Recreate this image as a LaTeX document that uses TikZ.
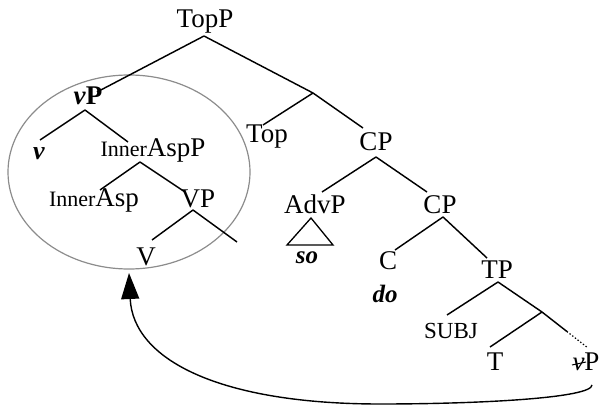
\documentclass[tikz,border=0pt]{standalone}
\usepackage{fontspec}
\setmainfont{Liberation Serif}
\usetikzlibrary{calc,arrows.meta}
\begin{document}
\begin{tikzpicture}[x=1pt,y=-1pt,
  lbl/.style={anchor=base,inner sep=0pt,font=\fontsize{27}{30}\selectfont},
  sml/.style={anchor=base,inner sep=0pt,font=\fontsize{23}{26}\selectfont},
  wrd/.style={anchor=base,inner sep=0pt,font=\fontsize{25}{28}\selectfont\bfseries\itshape},
  branch/.style={line width=1.45pt,black},
  ring/.style={draw=black!45,line width=1.2pt},
  move/.style={line width=1.4pt,-{Triangle[length=26pt,width=18pt]}}]
\useasboundingbox (0,0) rectangle (599,406);
% labels
\node[lbl] (TopP) at (205,28) {TopP};
\coordinate (TopBar) at (313,93);
\node[lbl] (vP) at (88,105) {\textbf{\textit{v}P}};
\node[lbl] (Top) at (267,143) {Top};
\node[lbl] (CP) at (376,151) {CP};
\node[lbl] (AdvP) at (315,213) {AdvP};
\node[wrd] (so) at (307,263) {so};
\node[lbl] (CPb) at (440,213) {CP};
\node[lbl] (C) at (388,269) {C};
\node[wrd] (do) at (385,302) {do};
\node[lbl] (TP) at (497,278) {TP};
\node[sml] (SUBJ) at (451,338) {SUBJ};
\coordinate (TPbar) at (542,312);
\node[lbl] (T) at (495,370) {T};
\node[lbl] (vPb) at (586,370) {\textit{v}P};
\node[lbl,font=\fontsize{26}{30}\selectfont\bfseries\itshape] (v) at (39,160) {v};
\node[lbl] (IAP) at (153,157) {{\fontsize{22}{26}\selectfont Inner}AspP};
\node[lbl] (IA) at (94,206) {{\fontsize{22}{26}\selectfont Inner}Asp};
\node[lbl] (VP) at (198,207) {VP};
\node[lbl] (V) at (146,265) {V};
\coordinate (VPr) at (237,242);
% circle
\draw[ring] (129,172) ellipse [x radius=121pt, y radius=97pt];
% branches
\draw[branch] ($(TopP.base)+(-1,8)$) -- ($(vP.base)+(9,-13)$);
\draw[branch] ($(TopP.base)+(-1,8)$) -- (TopBar);
\draw[branch] (TopBar) -- ($(Top.base)+(-4,-18)$);
\draw[branch] (TopBar) -- ($(CP.base)+(-13,-23)$);
\draw[branch] ($(CP.base)+(0,6)$) -- ($(AdvP.base)+(7,-21)$);
\draw[branch] ($(CP.base)+(0,6)$) -- ($(CPb.base)+(-13,-21)$);
\draw[line width=1.3pt] ($(AdvP.base)+(-4,5)$) -- ($(AdvP.base)+(-28,32)$) -- ($(AdvP.base)+(18,32)$) -- cycle;
\draw[branch] ($(CPb.base)+(3,4)$) -- ($(C.base)+(7,-19)$);
\draw[branch] ($(CPb.base)+(3,4)$) -- ($(TP.base)+(-10,-20)$);
\draw[branch] ($(TP.base)+(1,4)$) -- ($(SUBJ.base)+(-4,-23)$);
\draw[branch] ($(TP.base)+(1,4)$) -- (TPbar);
\draw[branch] (TPbar) -- ($(T.base)+(-5,-23)$);
\coordinate (dotend) at ($(vPb.base)+(2,-22)$);
\coordinate (solidend) at ($(TPbar)!0.54!(dotend)$);
\draw[branch] (TPbar) -- (solidend);
\draw[line width=1.2pt,dash pattern=on 1.4pt off 2pt] (solidend) -- (dotend);
\draw[line width=1pt] ($(vPb.base)+(-14,-5)$) -- ($(vPb.base)+(0,-8)$);
\draw[branch] ($(vP.base)+(-3,5)$) -- ($(v.base)+(1,-20)$);
\draw[branch] ($(vP.base)+(-3,5)$) -- ($(IAP.base)+(-25,-15)$);
\draw[branch] ($(IAP.base)+(-13,5)$) -- ($(IA.base)+(6,-16)$);
\draw[branch] ($(IAP.base)+(-13,5)$) -- ($(VP.base)+(-13,-15)$);
\draw[branch] ($(VP.base)+(-5,3)$) -- ($(V.base)+(6,-25)$);
\draw[branch] ($(VP.base)+(-5,3)$) -- (VPr);
% movement arrow
\draw[move] ($(vPb.base)+(6,15)$) .. controls (592,398) and (480,404) .. (380,404)
  .. controls (220,404) and (133,360) .. ($(V.base)+(-17,8)$);
\end{tikzpicture}
\end{document}
